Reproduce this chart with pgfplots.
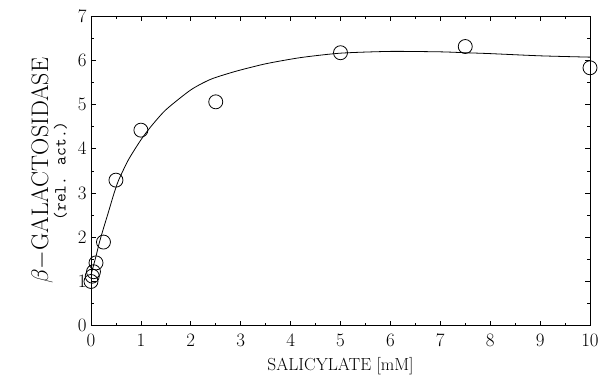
\RequirePackage{fix-cm}
\documentclass[border=0pt]{standalone}
\usepackage{pgfplots}
\pgfplotsset{compat=1.18}
\begin{document}
\begin{tikzpicture}
\begin{axis}[
  scale only axis, width=499bp, height=309.7bp,
  xmin=0, xmax=10, ymin=0, ymax=7,
  xtick={0,1,...,10}, ytick={0,1,...,7},
  minor x tick num=1, minor y tick num=1,
  tick align=inside, major tick length=5bp, minor tick length=3bp,
  tick style={black, line width=0.7pt},
  axis line style={line width=0.9pt},
  ticklabel style={font=\fontsize{19}{19}\selectfont},
  xticklabel style={yshift=-5bp},
  yticklabel style={xshift=-1bp},
  xlabel={SALICYLATE [mM]},
  xlabel style={font=\fontsize{17.5}{17.5}\selectfont, yshift=-4bp},
  ylabel={\fontsize{24}{24}\selectfont $\beta-$GALACTOSIDASE\\[0pt]{\fontsize{17}{17}\selectfont\ttfamily (rel. act.)}},
  ylabel style={align=center, yshift=4bp},
]
\addplot[black, line width=0.8pt, smooth, tension=0.4] coordinates {
(0,1.15) (0.05,1.36) (0.1,1.57) (0.17,1.89) (0.25,2.2) (0.35,2.57) (0.45,2.95)
(0.55,3.28) (0.75,3.75) (1.0,4.2) (1.2,4.5) (1.5,4.88) (2.0,5.33) (2.4,5.57)
(2.9,5.75) (3.5,5.92) (4.2,6.06) (5,6.16) (6,6.2) (7,6.19) (7.5,6.17)
(8,6.15) (9,6.1) (10,6.07)};
\addplot[only marks, mark=o, mark size=7bp, mark options={line width=0.8pt, black}] coordinates {
(0,1.0) (0.025,1.12) (0.05,1.22) (0.1,1.42) (0.25,1.89) (0.5,3.29) (1,4.42)
(2.5,5.06) (5,6.17) (7.5,6.31) (10,5.83)};
\end{axis}
\pgfresetboundingbox
\path[use as bounding box] (-91bp,-51.3bp) rectangle (511bp,325.7bp);
\end{tikzpicture}
\end{document}
